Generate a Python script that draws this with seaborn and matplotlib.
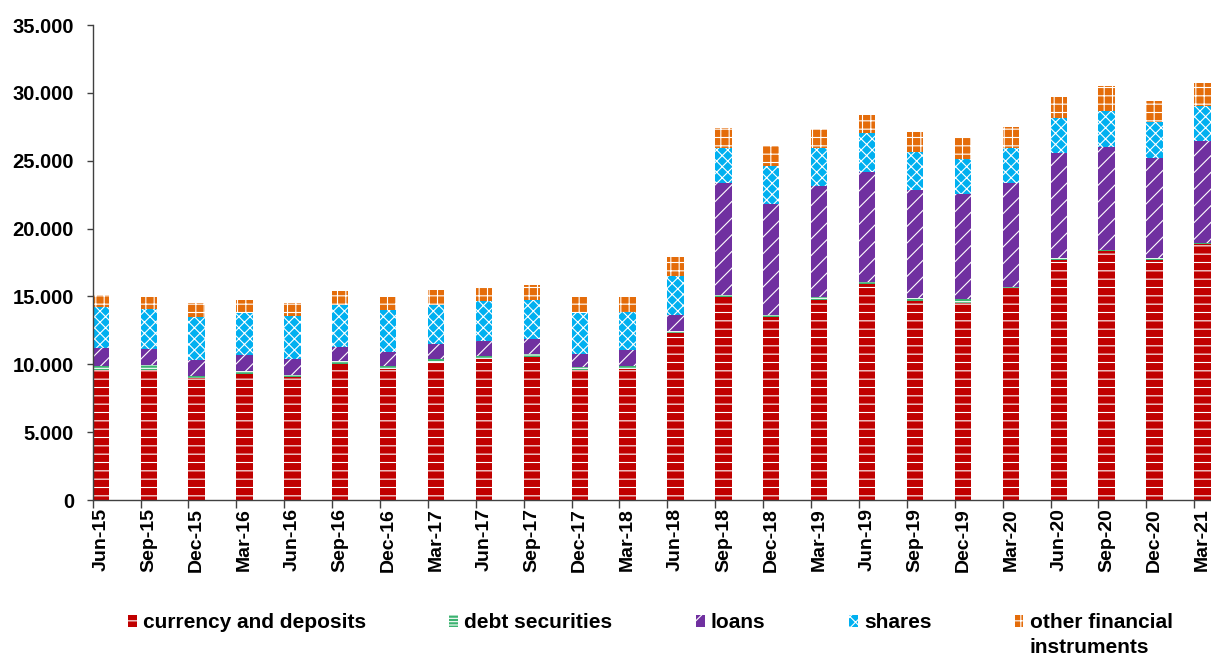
import pandas as pd
import matplotlib
matplotlib.use('Agg')
import matplotlib.pyplot as plt
from matplotlib.patches import Patch
from matplotlib.ticker import FuncFormatter, FixedLocator
import seaborn as sns

quarters = ['Jun-15', 'Sep-15', 'Dec-15', 'Mar-16', 'Jun-16', 'Sep-16', 'Dec-16', 'Mar-17',
            'Jun-17', 'Sep-17', 'Dec-17', 'Mar-18', 'Jun-18', 'Sep-18', 'Dec-18', 'Mar-19',
            'Jun-19', 'Sep-19', 'Dec-19', 'Mar-20', 'Jun-20', 'Sep-20', 'Dec-20', 'Mar-21']

currency = [9580, 9580, 9010, 9260, 9090, 10000, 9650, 10170, 10390, 10540, 9580, 9650,
            12280, 14940, 13460, 14740, 15890, 14660, 14540, 15600, 17700, 18350, 17700, 18850]
debt = [320, 340, 130, 240, 120, 220, 220, 220, 220, 220, 220, 220,
        200, 140, 150, 200, 200, 220, 250, 100, 100, 100, 100, 100]
loans = [1280, 1180, 1180, 1160, 1200, 1050, 1030, 1100, 1110, 1100, 960, 1180,
         1130, 8250, 8200, 8200, 8080, 7960, 7760, 7680, 7750, 7530, 7420, 7500]
shares = [3020, 2970, 3140, 3090, 3170, 3070, 3100, 2880, 2940, 2880, 3020, 2800,
          2890, 2630, 2820, 2820, 2900, 2820, 2550, 2580, 2620, 2710, 2610, 2600]
other = [900, 860, 1080, 990, 960, 1060, 960, 1100, 1030, 1100, 1180, 1110,
         1380, 1470, 1450, 1350, 1300, 1480, 1550, 1550, 1550, 1810, 1590, 1650]

series_names = ['currency and deposits', 'debt securities', 'loans', 'shares',
                'other financial instruments']
colors = ['#C00000', '#3CB371', '#7030A0', '#00B0F0', '#E46C0A']
hatches = ['--', '-----', '//', 'xxx', '++']

df = pd.DataFrame({'quarter': quarters, 'currency': currency, 'debt': debt,
                   'loans': loans, 'shares': shares, 'other': other})
cols = ['currency', 'debt', 'loans', 'shares', 'other']
cum = df[cols].cumsum(axis=1)
cum['quarter'] = df['quarter']

plt.rcParams['font.family'] = ['Liberation Sans', 'DejaVu Sans']
plt.rcParams['font.weight'] = 'bold'
plt.rcParams['hatch.color'] = 'white'
plt.rcParams['hatch.linewidth'] = 0.8

fig = plt.figure(figsize=(12.11, 6.55), dpi=100)
ax = fig.add_axes([0.0765, 0.2366, 0.9235, 0.7252])

bar_w = 0.34
# draw totals first, then each lower layer on top
for i in range(len(cols) - 1, -1, -1):
    sns.barplot(data=cum, x='quarter', y=cols[i], color=colors[i], hatch=hatches[i],
                width=bar_w, saturation=1, errorbar=None, edgecolor='white',
                linewidth=0, ax=ax)

ax.set_xlim(-bar_w / 2, 23.18)
ax.set_ylim(0, 35000)
ax.set_yticks(range(0, 35001, 5000))
ax.yaxis.set_major_formatter(FuncFormatter(lambda v, p: '{:,.0f}'.format(v).replace(',', '.')))
ax.set_xlabel('')
ax.set_ylabel('')

ax.set_xticks(range(len(quarters)))
ax.set_xticklabels(quarters, rotation=90, fontsize=14, fontweight='bold')
ax.xaxis.set_minor_locator(FixedLocator([i - bar_w / 2 for i in range(len(quarters))]))
ax.tick_params(axis='x', which='major', length=0, pad=6)
ax.tick_params(axis='x', which='minor', length=6, width=1, color='#404040', direction='out')
ax.tick_params(axis='y', length=4.5, width=1, color='#404040', pad=9, labelsize=14.5)
for lab in ax.get_yticklabels():
    lab.set_fontweight('bold')

for s in ['top', 'right']:
    ax.spines[s].set_visible(False)
for s in ['left', 'bottom']:
    ax.spines[s].set_color('#404040')
    ax.spines[s].set_linewidth(1)

handles = [Patch(facecolor=c, hatch=h, edgecolor='white', linewidth=0)
           for c, h in zip(colors, hatches)]
labels = series_names[:-1] + ['other financial']
leg = fig.legend(handles, labels, loc='center', bbox_to_anchor=(0.537, 0.049), ncol=5,
                 frameon=False, prop={'size': 15, 'weight': 'bold'},
                 handlelength=0.42, handleheight=0.55, handletextpad=0.3,
                 columnspacing=4.0)

fig.canvas.draw()
bb = leg.get_texts()[-1].get_window_extent()
fig.text(bb.x0 / fig.bbox.width, (bb.y0 - 25) / fig.bbox.height, 'instruments',
         fontsize=15, fontweight='bold', ha='left', va='bottom')

fig.savefig('out.png', dpi=100)
